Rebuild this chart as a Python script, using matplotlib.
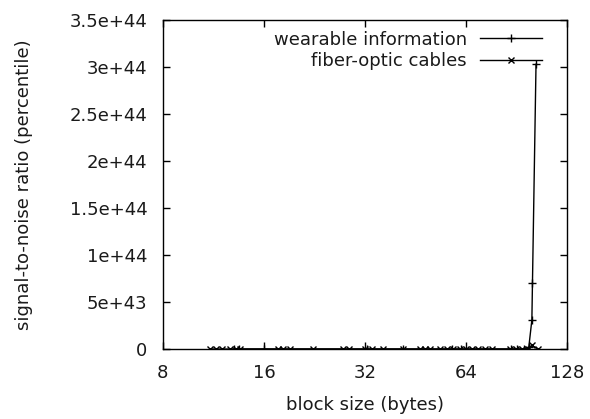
import matplotlib
matplotlib.use("Agg")
import matplotlib.pyplot as plt
import numpy as np

plt.rcParams['font.family'] = ['DejaVu Sans']

# data
wear_x = [13.0, 13.5, 16.0, 32.5, 41.5, 58.0, 62.0, 87.0, 91.0, 95.0, 98.5, 100.6, 101.0, 103.5]
wear_y = [0, 0, 0, 0, 0, 0, 0, 0, 0, 0, 0.02e44, 0.31e44, 0.70e44, 3.03e44]

fiber_x = [11.05, 11.5, 12.0, 12.7, 13.2, 13.6, 17.6, 18.2, 19.1, 22.4, 27.5, 28.7, 32.0,
           33.6, 36.2, 41.5, 46.7, 48.3, 50.0, 53.5, 56.2, 58.5, 61.4, 64.0, 66.7, 69.5,
           72.9, 76.5, 86.6, 90.2, 94.0, 97.9, 100.5, 104.9]
fiber_y = [0] * 32 + [0.04e44, 0]

xticks = [8, 16, 32, 64, 128]
yticks = [0, 0.5e44, 1e44, 1.5e44, 2e44, 2.5e44, 3e44, 3.5e44]
ytick_labels = ['0', '5e+43', '1e+44', '1.5e+44', '2e+44', '2.5e+44', '3e+44', '3.5e+44']

fs = 13
fig = plt.figure(figsize=(5.9, 4.19), dpi=100)
ax = fig.add_axes([0.276, 0.167, 0.685, 0.785])

ax.plot(wear_x, wear_y, color='black', lw=1, marker='+', ms=6, mew=1,
        label='wearable information')
ax.plot(fiber_x, fiber_y, color='black', lw=1, marker='x', ms=4, mew=1,
        label='fiber-optic cables')

ax.set_xscale('log', base=2)
ax.set_xlim(8, 128)
ax.set_ylim(0, 3.5e44)
ax.set_xticks(xticks)
ax.set_xticklabels([str(t) for t in xticks])
ax.xaxis.set_minor_locator(matplotlib.ticker.NullLocator())
ax.set_yticks(yticks)
ax.set_yticklabels(ytick_labels)
ax.tick_params(direction='in', length=5, width=1, top=True, right=True,
               labelsize=fs, labelcolor='#1a1a1a')
ax.tick_params(axis='y', pad=11)
ax.tick_params(axis='x', pad=11)
for s in ax.spines.values():
    s.set_linewidth(1)

ax.set_xlabel('block size (bytes)', fontsize=fs, color='#1a1a1a')
ax.set_ylabel('signal-to-noise ratio (percentile)', fontsize=fs, color='#1a1a1a')
ax.xaxis.set_label_coords(0.5, -0.142)
ax.yaxis.set_label_coords(-0.322, 0.5)

leg = ax.legend(loc='upper right', bbox_to_anchor=(0.956, 0.99), borderaxespad=0,
                frameon=False, markerfirst=False, fontsize=fs,
                handlelength=3.44, labelspacing=0.2, handletextpad=0.72)
for t in leg.get_texts():
    t.set_color('#1a1a1a')

fig.savefig('out.png', dpi=100)
